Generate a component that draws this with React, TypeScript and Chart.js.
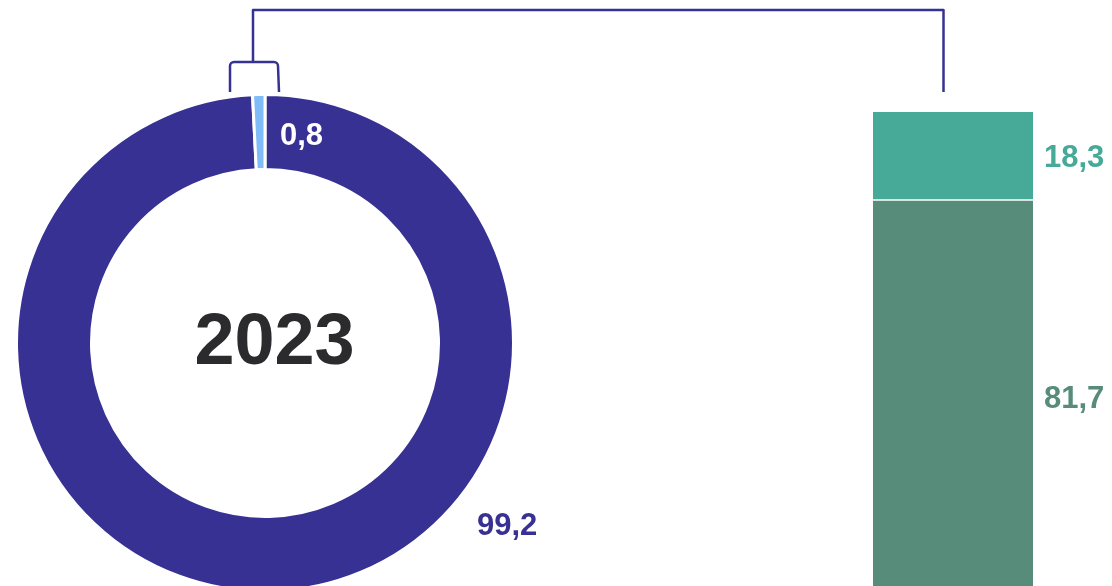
import React, { useEffect, useRef } from "react";
import { Chart, registerables } from "chart.js";

Chart.register(...registerables);

// ---- data ----
const yearLabel = "2023";
const donutValues = [99.2, 0.8];
const donutLabels = ["99,2", "0,8"];
const donutColors = ["#363192", "#80bcf8"];

const barCategories = ["2023"];
const barLower = [81.7];
const barUpper = [18.3];
const barLabels = ["81,7", "18,3"];
const barColors = ["#578c7a", "#47aa98"];

const NAVY = "#363192";
const FONT = "'Liberation Sans', Arial, sans-serif";

const W = 1112;
const H = 593;

const donutPlugin = {
  id: "donutDecor",
  afterDraw(chart: any) {
    const ctx = chart.ctx as CanvasRenderingContext2D;
    const meta = chart.getDatasetMeta(0);
    const arc = meta.data[0] as any;
    const cx = arc.x;
    const cy = arc.y;
    ctx.save();
    // center year
    ctx.fillStyle = "#2b2b2e";
    ctx.font = `bold 72px ${FONT}`;
    ctx.textAlign = "center";
    ctx.textBaseline = "alphabetic";
    ctx.fillText(yearLabel, cx + 9.5, cy + 21);
    // small slice label (white on ring)
    ctx.font = `bold 31px ${FONT}`;
    ctx.textAlign = "left";
    ctx.fillStyle = "#ffffff";
    ctx.fillText(donutLabels[1], cx + 15, cy - 198);
    // big slice label
    ctx.fillStyle = NAVY;
    ctx.fillText(donutLabels[0], cx + 212, cy + 192);

    // bracket
    ctx.strokeStyle = NAVY;
    ctx.lineWidth = 2.5;
    ctx.lineJoin = "round";
    ctx.lineCap = "butt";
    ctx.beginPath();
    ctx.moveTo(cx - 12, 62);
    ctx.lineTo(cx - 12, 10);
    ctx.lineTo(943.5, 10);
    ctx.lineTo(943.5, 92);
    ctx.stroke();
    ctx.beginPath();
    const l = cx - 35;
    const r = cx + 13;
    ctx.moveTo(l, 92);
    ctx.lineTo(l, 66);
    ctx.arcTo(l, 62, l + 4, 62, 4);
    ctx.lineTo(r - 4, 62);
    ctx.arcTo(r, 62, r, 66, 4);
    ctx.lineTo(r + 1, 92);
    ctx.stroke();
    ctx.restore();
  },
};

const barPlugin = {
  id: "barDecor",
  afterDraw(chart: any) {
    const ctx = chart.ctx as CanvasRenderingContext2D;
    ctx.save();
    ctx.font = `bold 31px ${FONT}`;
    ctx.textAlign = "left";
    ctx.textBaseline = "alphabetic";
    chart.data.datasets.forEach((ds: any, i: number) => {
      const meta = chart.getDatasetMeta(i);
      meta.data.forEach((bar: any) => {
        const right = bar.x + bar.width / 2;
        const mid = (bar.y + bar.base) / 2;
        ctx.fillStyle = barColors[i];
        ctx.fillText(barLabels[i], right + 11, mid + 11);
      });
    });
    ctx.restore();
  },
};

export default function App() {
  const donutRef = useRef<HTMLCanvasElement>(null);
  const barRef = useRef<HTMLCanvasElement>(null);

  useEffect(() => {
    const donut = new Chart(donutRef.current!, {
      type: "doughnut",
      data: {
        labels: donutLabels,
        datasets: [
          {
            data: donutValues,
            backgroundColor: donutColors,
            borderColor: "#ffffff",
            borderWidth: 3,
          },
        ],
      },
      options: {
        responsive: false,
        animation: false,
        cutout: "69.82%",
        rotation: 0,
        layout: { padding: { left: 15, right: W - 515, top: 93, bottom: 0 } },
        plugins: { legend: { display: false }, tooltip: { enabled: false } },
        events: [],
      },
      plugins: [donutPlugin],
    });

    const bar = new Chart(barRef.current!, {
      type: "bar",
      data: {
        labels: barCategories,
        datasets: [
          {
            data: barLower,
            backgroundColor: barColors[0],
            borderColor: "#ffffff",
            borderWidth: { top: 1, left: 0, right: 0, bottom: 0 },
            borderSkipped: false,
          },
          {
            data: barUpper,
            backgroundColor: barColors[1],
            borderColor: "#ffffff",
            borderWidth: { top: 0, left: 0, right: 0, bottom: 1 },
            borderSkipped: false,
          },
        ],
      },
      options: {
        responsive: false,
        animation: false,
        layout: { padding: { left: 873, right: W - 1033, top: 112, bottom: 0 } },
        datasets: { bar: { barPercentage: 1, categoryPercentage: 1 } },
        scales: {
          x: { stacked: true, display: false },
          y: { stacked: true, display: false, min: 0, max: 100 },
        },
        plugins: { legend: { display: false }, tooltip: { enabled: false } },
        events: [],
      },
      plugins: [barPlugin],
    });

    return () => {
      donut.destroy();
      bar.destroy();
    };
  }, []);

  return (
    <div
      style={{
        position: "fixed",
        left: 0,
        top: 0,
        width: 1112,
        height: 586,
        overflow: "hidden",
        background: "#ffffff",
      }}
    >
      <canvas
        ref={donutRef}
        width={W}
        height={H}
        style={{ position: "absolute", left: 0, top: 0, width: W, height: H }}
      />
      <canvas
        ref={barRef}
        width={W}
        height={H}
        style={{ position: "absolute", left: 0, top: 0, width: W, height: H }}
      />
    </div>
  );
}
